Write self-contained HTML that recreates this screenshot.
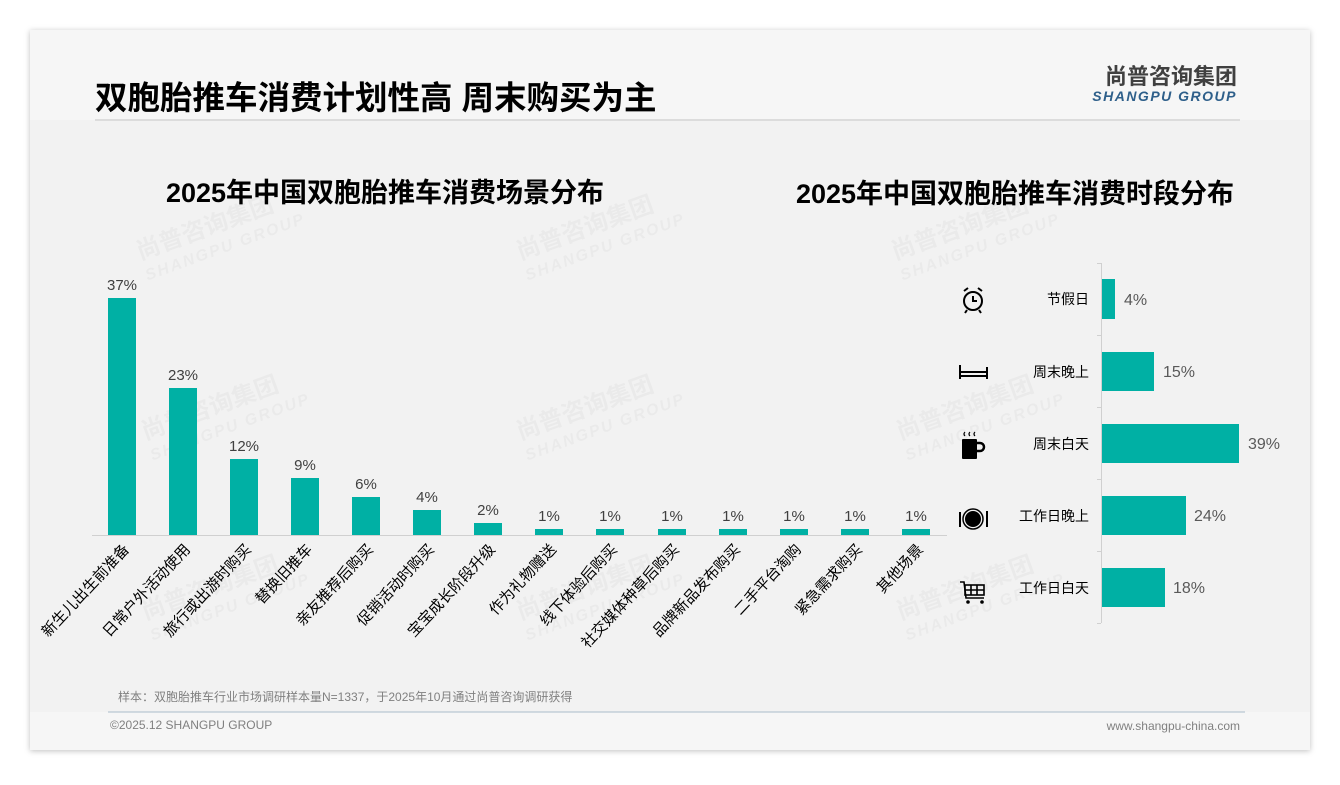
<!DOCTYPE html>
<html><head><meta charset="utf-8"><style>
body{margin:0;width:1340px;height:780px;background:#fff;overflow:hidden;font-family:"Liberation Sans","Noto Sans CJK SC",sans-serif;}
</style></head><body>
<svg width="1340" height="780" xmlns="http://www.w3.org/2000/svg" font-family="Liberation Sans, Noto Sans CJK SC, sans-serif">
<defs><filter id="sh" x="-5%" y="-5%" width="110%" height="110%"><feDropShadow dx="0" dy="1" stdDeviation="3" flood-color="#000" flood-opacity="0.25"/></filter></defs>
<rect x="30" y="30" width="1280" height="720" fill="#f2f2f2" filter="url(#sh)"/>
<rect x="30" y="30" width="1280" height="90" fill="#f6f6f6"/>
<rect x="30" y="712" width="1280" height="38" fill="#f6f6f6"/>
<line x1="95" y1="120" x2="1240" y2="120" stroke="#dcdcdc" stroke-width="2"/>
<line x1="108" y1="712" x2="1245" y2="712" stroke="#a9bccb" stroke-width="1"/>
<text x="95" y="109" font-size="32.5" font-weight="bold" fill="#000">双胞胎推车消费计划性高 周末购买为主</text>
<text x="1237" y="84" font-size="22" font-weight="bold" fill="#404040" text-anchor="end">尚普咨询集团</text>
<text x="1237" y="101" font-size="14" font-weight="bold" font-style="italic" fill="#2e5f8a" text-anchor="end" letter-spacing="1.5">SHANGPU GROUP</text>
<g fill="#000" fill-opacity="0.03" font-weight="bold">
<g transform="translate(140,260) rotate(-20)"><text font-size="24">尚普咨询集团</text><text y="22" font-size="16" font-style="italic" letter-spacing="2">SHANGPU GROUP</text></g>
<g transform="translate(520,260) rotate(-20)"><text font-size="24">尚普咨询集团</text><text y="22" font-size="16" font-style="italic" letter-spacing="2">SHANGPU GROUP</text></g>
<g transform="translate(895,260) rotate(-20)"><text font-size="24">尚普咨询集团</text><text y="22" font-size="16" font-style="italic" letter-spacing="2">SHANGPU GROUP</text></g>
<g transform="translate(145,440) rotate(-20)"><text font-size="24">尚普咨询集团</text><text y="22" font-size="16" font-style="italic" letter-spacing="2">SHANGPU GROUP</text></g>
<g transform="translate(520,440) rotate(-20)"><text font-size="24">尚普咨询集团</text><text y="22" font-size="16" font-style="italic" letter-spacing="2">SHANGPU GROUP</text></g>
<g transform="translate(900,440) rotate(-20)"><text font-size="24">尚普咨询集团</text><text y="22" font-size="16" font-style="italic" letter-spacing="2">SHANGPU GROUP</text></g>
<g transform="translate(145,620) rotate(-20)"><text font-size="24">尚普咨询集团</text><text y="22" font-size="16" font-style="italic" letter-spacing="2">SHANGPU GROUP</text></g>
<g transform="translate(520,620) rotate(-20)"><text font-size="24">尚普咨询集团</text><text y="22" font-size="16" font-style="italic" letter-spacing="2">SHANGPU GROUP</text></g>
<g transform="translate(900,620) rotate(-20)"><text font-size="24">尚普咨询集团</text><text y="22" font-size="16" font-style="italic" letter-spacing="2">SHANGPU GROUP</text></g>
</g>
<text x="385" y="202" font-size="27" font-weight="bold" text-anchor="middle">2025年中国双胞胎推车消费场景分布</text>
<text x="1015" y="203" font-size="27" font-weight="bold" text-anchor="middle">2025年中国双胞胎推车消费时段分布</text>
<line x1="92" y1="535.5" x2="947" y2="535.5" stroke="#d0d0d0"/>
<g fill="#00b0a4">
<rect x="108" y="298" width="28" height="237"/><rect x="169" y="388" width="28" height="147"/>
<rect x="230" y="459" width="28" height="76"/><rect x="291" y="478" width="28" height="57"/>
<rect x="352" y="497" width="28" height="38"/><rect x="413" y="510" width="28" height="25"/>
<rect x="474" y="523" width="28" height="12"/><rect x="535" y="529" width="28" height="6"/>
<rect x="596" y="529" width="28" height="6"/><rect x="658" y="529" width="28" height="6"/>
<rect x="719" y="529" width="28" height="6"/><rect x="780" y="529" width="28" height="6"/>
<rect x="841" y="529" width="28" height="6"/><rect x="902" y="529" width="28" height="6"/>
</g>
<g font-size="15" fill="#404040" text-anchor="middle">
<text x="122" y="290">37%</text><text x="183" y="380">23%</text><text x="244" y="451">12%</text><text x="305" y="470">9%</text><text x="366" y="489">6%</text><text x="427" y="502">4%</text><text x="488" y="515">2%</text><text x="549" y="521">1%</text><text x="610" y="521">1%</text><text x="672" y="521">1%</text><text x="733" y="521">1%</text><text x="794" y="521">1%</text><text x="855" y="521">1%</text><text x="916" y="521">1%</text>
</g>
<g font-size="15" fill="#000" text-anchor="end">
<text transform="translate(130,550) rotate(-47)">新生儿出生前准备</text>
<text transform="translate(191,550) rotate(-47)">日常户外活动使用</text>
<text transform="translate(252,550) rotate(-47)">旅行或出游时购买</text>
<text transform="translate(313,550) rotate(-47)">替换旧推车</text>
<text transform="translate(374,550) rotate(-47)">亲友推荐后购买</text>
<text transform="translate(435,550) rotate(-47)">促销活动时购买</text>
<text transform="translate(496,550) rotate(-47)">宝宝成长阶段升级</text>
<text transform="translate(557,550) rotate(-47)">作为礼物赠送</text>
<text transform="translate(618,550) rotate(-47)">线下体验后购买</text>
<text transform="translate(680,550) rotate(-47)">社交媒体种草后购买</text>
<text transform="translate(741,550) rotate(-47)">品牌新品发布购买</text>
<text transform="translate(802,550) rotate(-47)">二手平台淘购</text>
<text transform="translate(863,550) rotate(-47)">紧急需求购买</text>
<text transform="translate(924,550) rotate(-47)">其他场景</text>
</g>
<line x1="1101.5" y1="263" x2="1101.5" y2="623" stroke="#d0d0d0"/>
<g stroke="#d0d0d0"><line x1="1097" y1="263.5" x2="1101" y2="263.5"/><line x1="1097" y1="335.5" x2="1101" y2="335.5"/><line x1="1097" y1="407.5" x2="1101" y2="407.5"/><line x1="1097" y1="479.5" x2="1101" y2="479.5"/><line x1="1097" y1="551.5" x2="1101" y2="551.5"/><line x1="1097" y1="623.5" x2="1101" y2="623.5"/></g>
<g fill="#00b0a4">
<rect x="1102" y="279" width="13" height="40"/><rect x="1102" y="352" width="52" height="39"/>
<rect x="1102" y="424" width="137" height="39"/><rect x="1102" y="496" width="84" height="39"/>
<rect x="1102" y="568" width="63" height="39"/>
</g>
<g font-size="16" fill="#595959">
<text x="1124" y="305">4%</text><text x="1163" y="377">15%</text><text x="1248" y="449">39%</text><text x="1194" y="521">24%</text><text x="1173" y="593">18%</text>
</g>
<g font-size="14" fill="#000" text-anchor="end">
<text x="1089" y="304">节假日</text><text x="1089" y="377">周末晚上</text><text x="1089" y="449">周末白天</text><text x="1089" y="521">工作日晚上</text><text x="1089" y="593">工作日白天</text>
</g>
<g fill="none" stroke="#000" stroke-width="2">
<circle cx="973" cy="301" r="9"/><path d="M973 296v5h4M964 291l4-3M982 291l-4-3M967 310l-2 3M979 310l2 3"/>
<path d="M960 365v14M960 376h27M961 372h26M987 367v12"/>
</g>
<rect x="962" y="439" width="15" height="20" rx="1" fill="#000"/><path d="M977 443h3a4 4 0 0 1 0 8h-3" fill="none" stroke="#000" stroke-width="2.5"/>
<path d="M965 436q-2-2 0-4M970 436q-2-2 0-4M975 436q-2-2 0-4" fill="none" stroke="#000" stroke-width="1.2"/>
<circle cx="973" cy="519" r="8" fill="#000"/><circle cx="973" cy="519" r="10" fill="none" stroke="#000" stroke-width="1.5"/>
<path d="M960 512v15M987 511v16" stroke="#000" stroke-width="2"/>
<g fill="none" stroke="#000" stroke-width="1.6"><path d="M960 582h4l2 16h18"/><rect x="965" y="585" width="19" height="10"/><path d="M965 590h19M971 585v10M977 585v10"/></g>
<circle cx="968" cy="602" r="1.8"/><circle cx="982" cy="602" r="1.8"/>
<text x="118" y="701" font-size="12" fill="#808080">样本：双胞胎推车行业市场调研样本量N=1337，于2025年10月通过尚普咨询调研获得</text>
<text x="110" y="729" font-size="12" fill="#808080">©2025.12 SHANGPU GROUP</text>
<text x="1240" y="730" font-size="12" fill="#808080" text-anchor="end">www.shangpu-china.com</text>
</svg>
</body></html>
